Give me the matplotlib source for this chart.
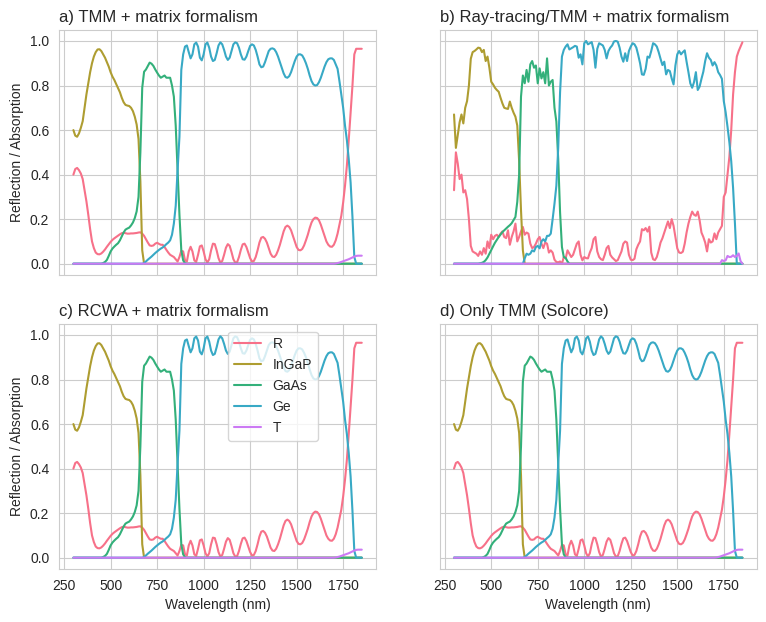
import numpy as np
import matplotlib
matplotlib.use('Agg')
import matplotlib.pyplot as plt
import seaborn as sns

sns.set_style('whitegrid')
plt.rcParams['font.family'] = ['Liberation Sans', 'DejaVu Sans']

# wavelength grid of the read-off values (nm)
wavelength = np.arange(300, 1851, 10)
labels = ['R', 'InGaP', 'GaAs', 'Ge', 'T']
titles = ['a) TMM + matrix formalism', 'b) Ray-tracing/TMM + matrix formalism',
          'c) RCWA + matrix formalism', 'd) Only TMM (Solcore)']

# --- smooth (TMM-like) result (c and d look the same) ---
R_a = [0.40, 0.425, 0.43, 0.42, 0.405, 0.38, 0.33, 0.28, 0.22, 0.155,
       0.10, 0.07, 0.05, 0.043, 0.042, 0.046, 0.054, 0.064, 0.076, 0.087,
       0.098, 0.107, 0.114, 0.12, 0.126, 0.132, 0.137, 0.139, 0.137, 0.135,
       0.135, 0.136, 0.136, 0.137, 0.138, 0.14, 0.141, 0.135, 0.125, 0.11,
       0.095, 0.082, 0.08, 0.082, 0.09, 0.094, 0.089, 0.085, 0.085, 0.075,
       0.062, 0.05, 0.04, 0.035, 0.03, 0.02, 0.01, 0.03, 0.058, 0.055,
       0.015, 0.01, 0.055, 0.076, 0.055, 0.015, 0.008, 0.04, 0.078, 0.082,
       0.055, 0.02, 0.005, 0.02, 0.06, 0.09, 0.088, 0.06, 0.025, 0.005,
       0.012, 0.04, 0.072, 0.088, 0.08, 0.052, 0.02, 0.005, 0.007, 0.03,
       0.062, 0.087, 0.09, 0.075, 0.05, 0.025, 0.01, 0.012, 0.03, 0.06,
       0.095, 0.117, 0.12, 0.112, 0.095, 0.07, 0.045, 0.032, 0.03, 0.04,
       0.06, 0.085, 0.115, 0.145, 0.165, 0.171, 0.165, 0.15, 0.125, 0.10,
       0.075, 0.062, 0.06, 0.066, 0.082, 0.105, 0.13, 0.16, 0.185, 0.20,
       0.207, 0.205, 0.195, 0.175, 0.15, 0.125, 0.10, 0.085, 0.077, 0.076,
       0.085, 0.105, 0.135, 0.175, 0.215, 0.275, 0.35, 0.44, 0.555, 0.68,
       0.80, 0.94, 0.965, 0.965, 0.965, 0.965]
InGaP_a = [0.60, 0.575, 0.57, 0.585, 0.61, 0.64, 0.70, 0.76, 0.81, 0.86,
           0.90, 0.93, 0.95, 0.962, 0.963, 0.955, 0.94, 0.925, 0.905, 0.885,
           0.86, 0.84, 0.825, 0.807, 0.79, 0.77, 0.745, 0.725, 0.713, 0.71,
           0.708, 0.70, 0.685, 0.66, 0.625, 0.56, 0.37, 0.06, 0.0, 0.0] + [0.0] * 116
GaAs_a = [0.0] * 16 + [0.003, 0.008, 0.017, 0.035,
          0.055, 0.068, 0.077, 0.085, 0.092, 0.105, 0.122, 0.14, 0.153, 0.158,
          0.162, 0.172, 0.185, 0.205, 0.235, 0.30, 0.50, 0.79, 0.862, 0.872,
          0.888, 0.903, 0.898, 0.888, 0.872, 0.858, 0.845, 0.835, 0.84, 0.845,
          0.835, 0.835, 0.835, 0.80, 0.75, 0.62, 0.42, 0.22, 0.06, 0.015,
          0.002] + [0.0] * 95
Ge_a = [0.0] * 38 + [0.003, 0.01, 0.018, 0.025, 0.032, 0.04, 0.048, 0.055, 0.062, 0.068,
        0.073, 0.08, 0.088, 0.095, 0.105, 0.13, 0.18, 0.26, 0.42, 0.57,
        0.87, 0.94, 0.975, 0.98, 0.95, 0.922, 0.94, 0.985, 0.993, 0.975,
        0.925, 0.913, 0.94, 0.985, 0.993, 0.97, 0.93, 0.91, 0.915, 0.945,
        0.98, 0.994, 0.985, 0.96, 0.93, 0.915, 0.925, 0.955, 0.985, 0.994,
        0.99, 0.97, 0.94, 0.918, 0.916, 0.93, 0.955, 0.978, 0.985, 0.98,
        0.96, 0.93, 0.895, 0.882, 0.885, 0.905, 0.93, 0.955, 0.965, 0.967,
        0.963, 0.95, 0.93, 0.905, 0.88, 0.855, 0.838, 0.835, 0.842, 0.86,
        0.885, 0.91, 0.93, 0.94, 0.94, 0.935, 0.92, 0.90, 0.875, 0.845,
        0.82, 0.805, 0.80, 0.802, 0.815, 0.835, 0.86, 0.885, 0.905, 0.918,
        0.922, 0.922, 0.915, 0.895, 0.875, 0.82, 0.76, 0.70, 0.62, 0.555,
        0.47, 0.365, 0.21, 0.03, 0.0, 0.0, 0.0, 0.0]
T_a = [0.0] * 141 + [0.001, 0.003, 0.005, 0.008, 0.011, 0.014, 0.017, 0.02,
                     0.024, 0.028, 0.032, 0.035, 0.036, 0.036, 0.036]

# --- ray-tracing result (panel b), noisy ---
R_b = [0.33, 0.50, 0.45, 0.38, 0.40, 0.32, 0.33, 0.29, 0.20, 0.08,
       0.055, 0.05, 0.045, 0.035, 0.055, 0.04, 0.07, 0.045, 0.10, 0.07,
       0.13, 0.11, 0.125, 0.13, 0.12, 0.135, 0.145, 0.12, 0.115, 0.15,
       0.085, 0.12, 0.145, 0.18, 0.10, 0.12, 0.145, 0.165, 0.13, 0.14,
       0.135, 0.09, 0.07, 0.075, 0.09, 0.11, 0.12, 0.09, 0.07, 0.095,
       0.09, 0.05, 0.06, 0.05, 0.018, 0.008, 0.006, 0.01, 0.0, 0.03,
       0.024, 0.06, 0.045, 0.03, 0.04, 0.065, 0.09, 0.10, 0.04, 0.015,
       0.03, 0.025, 0.024, 0.05, 0.07, 0.11, 0.12, 0.055, 0.03, 0.02,
       0.016, 0.04, 0.07, 0.08, 0.04, 0.028, 0.02, 0.012, 0.016, 0.035,
       0.055, 0.09, 0.10, 0.095, 0.04, 0.018, 0.016, 0.022, 0.065, 0.085,
       0.10, 0.155, 0.15, 0.16, 0.144, 0.166, 0.05, 0.02, 0.016, 0.03,
       0.06, 0.095, 0.114, 0.14, 0.165, 0.19, 0.16, 0.20, 0.17, 0.12,
       0.069, 0.05, 0.048, 0.054, 0.09, 0.14, 0.18, 0.21, 0.234, 0.22,
       0.215, 0.234, 0.195, 0.14, 0.12, 0.095, 0.055, 0.11, 0.095, 0.10,
       0.136, 0.11, 0.14, 0.155, 0.17, 0.30, 0.32, 0.40, 0.48, 0.60,
       0.76, 0.86, 0.93, 0.955, 0.975, 0.994]
InGaP_b = [0.67, 0.52, 0.578, 0.635, 0.67, 0.63, 0.70, 0.73, 0.80, 0.92,
           0.95, 0.955, 0.962, 0.97, 0.968, 0.95, 0.96, 0.91, 0.93, 0.88,
           0.817, 0.805, 0.79, 0.78, 0.772, 0.745, 0.72, 0.70, 0.697, 0.695,
           0.728, 0.70, 0.678, 0.66, 0.62, 0.46, 0.24, 0.06, 0.0, 0.0] + [0.0] * 116
GaAs_b = [0.0] * 14 + [0.002, 0.004, 0.008, 0.016, 0.028, 0.045,
          0.061, 0.078, 0.094, 0.107, 0.12, 0.131, 0.142, 0.15, 0.158, 0.166,
          0.173, 0.182, 0.196, 0.21, 0.278, 0.40, 0.75, 0.845, 0.81, 0.87,
          0.817, 0.895, 0.91, 0.88, 0.89, 0.81, 0.877, 0.832, 0.86, 0.81,
          0.922, 0.80, 0.817, 0.825, 0.70, 0.638, 0.47, 0.23, 0.075, 0.03,
          0.026, 0.01] + [0.0] * 94
Ge_b = [0.0] * 38 + [0.024, 0.045, 0.04, 0.045, 0.06, 0.055, 0.075, 0.08, 0.069, 0.10,
        0.11, 0.10, 0.125, 0.125, 0.135, 0.20, 0.27, 0.35, 0.52, 0.77,
        0.93, 0.96, 0.975, 0.985, 0.962, 0.967, 0.972, 0.978, 0.975, 0.925,
        0.94, 0.895, 0.99, 1.0, 0.985, 0.99, 0.995, 0.96, 0.88, 0.965,
        0.99, 0.985, 0.98, 0.96, 0.922, 0.955, 0.97, 0.98, 0.998, 1.0,
        0.997, 0.97, 0.93, 0.907, 0.945, 0.91, 0.955, 0.975, 0.99, 0.985,
        0.97, 0.937, 0.90, 0.85, 0.848, 0.875, 0.93, 0.925, 0.955, 0.99,
        0.985, 0.975, 0.95, 0.92, 0.892, 0.907, 0.85, 0.87, 0.865, 0.832,
        0.805, 0.89, 0.94, 0.955, 0.94, 0.95, 0.958, 0.907, 0.86, 0.81,
        0.79, 0.815, 0.86, 0.78, 0.795, 0.83, 0.862, 0.91, 0.945, 0.925,
        0.915, 0.89, 0.905, 0.89, 0.86, 0.847, 0.83, 0.73, 0.68, 0.615,
        0.545, 0.46, 0.34, 0.18, 0.0, 0.0, 0.0, 0.0]
T_b = [0.0] * 144 + [0.016, 0.012, 0.015, 0.035, 0.03, 0.031, 0.038, 0.03,
                     0.035, 0.046, 0.012, 0.0]

smooth = [R_a, InGaP_a, GaAs_a, Ge_a, T_a]
raytrace = [R_b, InGaP_b, GaAs_b, Ge_b, T_b]
panel_data = [smooth, raytrace, smooth, smooth]

colors = sns.color_palette('husl', 5)

fig, axes = plt.subplots(2, 2, figsize=(7.66, 6.22), dpi=100, sharex=True, sharey=True)
fig.subplots_adjust(left=0.077, right=0.988, bottom=0.0855, top=0.952, wspace=0.2, hspace=0.2)

for ax, title, data in zip(axes.flat, titles, panel_data):
    for series, lab, c in zip(data, labels, colors):
        ax.plot(wavelength, series, color=c, lw=1.5, label=lab)
    ax.set_title(title, loc='left', fontsize=12)

axes[1, 0].set_xticks([250, 500, 750, 1000, 1250, 1500, 1750])
for ax in axes[:, 0]:
    ax.set_ylabel('Reflection / Absorption', fontsize=10)
for ax in axes[1, :]:
    ax.set_xlabel('Wavelength (nm)', fontsize=10)
for ax in axes.flat:
    ax.tick_params(labelsize=10)

axes[1, 0].legend(loc='upper left', bbox_to_anchor=(0.533, 0.968), borderaxespad=0, fontsize=10)

fig.savefig('out.png', dpi=100)
